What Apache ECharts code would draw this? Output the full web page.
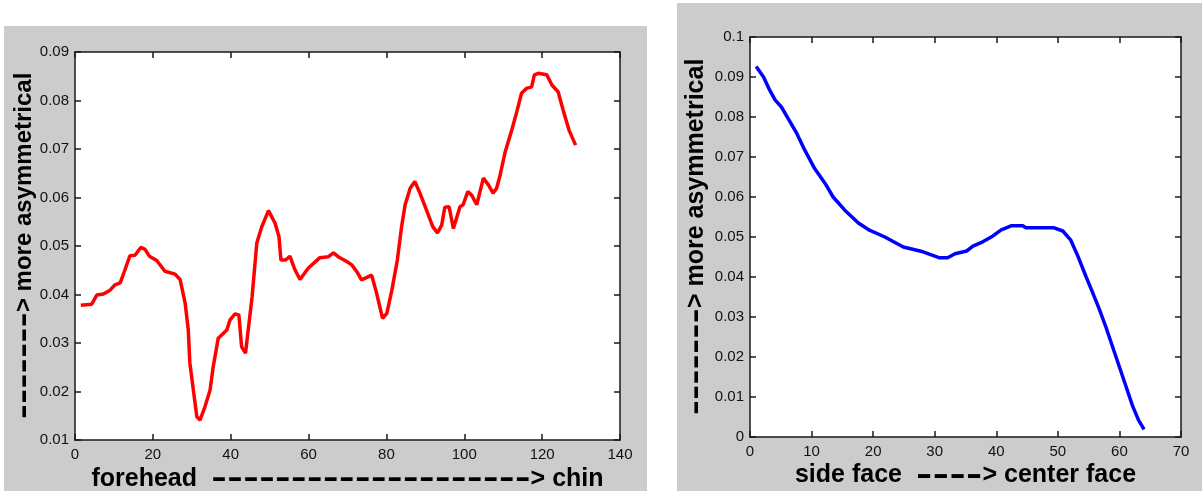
<!DOCTYPE html>
<html>
<head>
<meta charset="utf-8">
<script src="https://cdn.jsdelivr.net/npm/echarts@6/dist/echarts.min.js"></script>
<style>
html,body{margin:0;padding:0;background:#fff;}
#c{width:1202px;height:491px;}
</style>
</head>
<body>
<div id="c"></div>
<script>
// ---- data ----
const leftX = [1.5,4.3,5.6,7.3,9.0,10.3,11.6,12.8,14.1,15.4,16.9,18.0,19.1,21.0,23.1,25.7,27.0,28.3,29.1,29.5,30.4,31.3,32.1,33.4,34.7,35.5,36.8,39.0,39.8,41.1,42.1,42.8,43.8,44.7,45.5,46.7,48.0,49.7,51.4,52.4,52.9,54.1,55.2,56.5,57.8,59.9,62.9,65.1,66.4,67.6,69.8,71.1,72.4,73.6,76.2,77.5,79.0,80.1,81.4,82.8,83.9,84.8,86.1,87.3,88.6,90.3,91.9,93.1,94.2,95.0,96.1,97.2,98.9,99.7,100.9,101.9,103.2,104.9,106.2,107.4,108.3,109.2,110.5,112.2,113.5,114.7,116.0,117.3,118.0,119.0,121.2,122.5,124.1,125.4,126.9,128.6];
const leftY = [0.0378,0.0380,0.0399,0.0401,0.0409,0.0420,0.0424,0.0450,0.0480,0.0481,0.0497,0.0493,0.0479,0.0470,0.0448,0.0442,0.0431,0.0382,0.0327,0.0259,0.0203,0.0148,0.0141,0.0169,0.0203,0.0251,0.0310,0.0327,0.0347,0.0360,0.0358,0.0292,0.0279,0.0341,0.0396,0.0506,0.0540,0.0573,0.0547,0.0519,0.0471,0.0471,0.0479,0.0451,0.0431,0.0454,0.0476,0.0478,0.0486,0.0478,0.0468,0.0461,0.0447,0.0430,0.0440,0.0402,0.0351,0.0361,0.0409,0.0471,0.0540,0.0585,0.0619,0.0633,0.0609,0.0574,0.0540,0.0527,0.0543,0.0580,0.0581,0.0536,0.0581,0.0585,0.0612,0.0605,0.0585,0.0640,0.0626,0.0609,0.0619,0.0646,0.0694,0.0739,0.0777,0.0815,0.0825,0.0828,0.0853,0.0856,0.0853,0.0832,0.0818,0.0780,0.0739,0.0708];

const rightX = [1.0,2.2,3.2,4.1,5.1,6.2,7.6,8.9,10.5,12.2,13.5,15.4,17.6,19.4,21.9,24.9,28.1,30.8,32.1,33.3,35.2,36.2,37.8,39.4,40.8,42.4,44.3,44.8,49.4,50.8,52.1,53.2,54.6,55.6,56.7,57.8,58.9,60.0,61.1,62.1,63.1,64.0];
const rightY = [0.0926,0.0900,0.0867,0.0842,0.0825,0.0796,0.0759,0.0717,0.0671,0.0634,0.0600,0.0567,0.0535,0.0517,0.0500,0.0475,0.0463,0.0448,0.0448,0.0458,0.0465,0.0477,0.0488,0.0502,0.0518,0.0528,0.0528,0.0523,0.0523,0.0515,0.0492,0.0454,0.0400,0.0363,0.0321,0.0275,0.0225,0.0175,0.0125,0.0079,0.0042,0.0019];

const leftXTicks = {min: 0, max: 140, interval: 20};
const leftYTicks = {min: 0.01, max: 0.09, interval: 0.01};
const rightXTicks = {min: 0, max: 70, interval: 10};
const rightYTicks = {min: 0, max: 0.1, interval: 0.01};

const leftXTitle = ['forehead', 20, '> chin'];
const leftYTitle = [7, '> more asymmetrical'];
const rightXTitle = ['side face', 4, '> center face'];
const rightYTitle = [7, '> more asymmetrical'];

// ---- chart ----
const FONT = '"Liberation Sans", Arial, Helvetica, sans-serif';
const chart = echarts.init(document.getElementById('c'), null, {renderer: 'canvas'});

function rich(ts, ds) {
  return {
    t: {fontSize: ts, fontWeight: 'bold', fontFamily: FONT, color: '#000', lineHeight: 28, verticalAlign: 'middle'},
    d: {fontSize: ds, fontFamily: FONT, color: '#000', lineHeight: 28, verticalAlign: 'middle'}
  };
}
const dashes = n => '-'.repeat(n);

const lineStyle = {color: '#1a1a1a', width: 1.5};
function axis(kind, grid, ticks, pos, main, extra) {
  return Object.assign({
    type: 'value', gridIndex: grid, position: pos,
    min: ticks.min, max: ticks.max, interval: ticks.interval,
    axisLine: {show: true, onZero: false, lineStyle: lineStyle},
    axisTick: {show: true, inside: true, length: 6, lineStyle: lineStyle},
    axisLabel: {show: main, color: '#111', fontSize: 15, fontFamily: FONT, margin: kind === 'x' ? 7 : 6},
    splitLine: {show: false},
    nameMoveOverlap: false
  }, extra || {});
}

const option = {
  animation: false,
  backgroundColor: '#ffffff',
  graphic: [
    {type: 'rect', z: -100, shape: {x: 4, y: 26, width: 643, height: 465}, style: {fill: '#cccccc'}, silent: true},
    {type: 'rect', z: -100, shape: {x: 677, y: 3, width: 525, height: 488}, style: {fill: '#cccccc'}, silent: true}
  ],
  grid: [
    {left: 75, top: 52, width: 545, height: 388, show: true, backgroundColor: '#ffffff', borderWidth: 0, containLabel: false, outerBoundsMode: 'none'},
    {left: 750, top: 37, width: 431, height: 400, show: true, backgroundColor: '#ffffff', borderWidth: 0, containLabel: false, outerBoundsMode: 'none'}
  ],
  xAxis: [
    axis('x', 0, leftXTicks, 'bottom', true, {
      name: '{t|' + leftXTitle[0] + '  }{d|' + dashes(leftXTitle[1]) + '}{t|' + leftXTitle[2] + '}',
      nameLocation: 'middle', nameGap: 25, nameTextStyle: {rich: rich(25, 48)}
    }),
    axis('x', 0, leftXTicks, 'top', false),
    axis('x', 1, rightXTicks, 'bottom', true, {
      name: '{t|' + rightXTitle[0] + '  }{d|' + dashes(rightXTitle[1]) + '}{t|' + rightXTitle[2] + '}',
      nameLocation: 'middle', nameGap: 24, nameTextStyle: {rich: rich(25, 50)}
    }),
    axis('x', 1, rightXTicks, 'top', false)
  ],
  yAxis: [
    axis('y', 0, leftYTicks, 'left', true, {
      name: '{d|' + dashes(leftYTitle[0]) + '}{t|' + leftYTitle[1] + '}',
      nameLocation: 'middle', nameGap: 37, nameTextStyle: {rich: rich(24, 46)}
    }),
    axis('y', 0, leftYTicks, 'right', false),
    axis('y', 1, rightYTicks, 'left', true, {
      name: '{d|' + dashes(rightYTitle[0]) + '}{t|' + rightYTitle[1] + '}',
      nameLocation: 'middle', nameGap: 40, nameTextStyle: {rich: rich(25, 46)}
    }),
    axis('y', 1, rightYTicks, 'right', false)
  ],
  series: [
    {
      type: 'line', xAxisIndex: 0, yAxisIndex: 0, showSymbol: false, symbol: 'none',
      data: leftX.map((x, i) => [x, leftY[i]]),
      lineStyle: {color: '#ff0000', width: 3.5}, itemStyle: {color: '#ff0000'}
    },
    {
      type: 'line', xAxisIndex: 2, yAxisIndex: 2, showSymbol: false, symbol: 'none',
      data: rightX.map((x, i) => [x, rightY[i]]),
      lineStyle: {color: '#0000ff', width: 3.5}, itemStyle: {color: '#0000ff'}
    }
  ]
};
chart.setOption(option);
</script>
</body>
</html>
